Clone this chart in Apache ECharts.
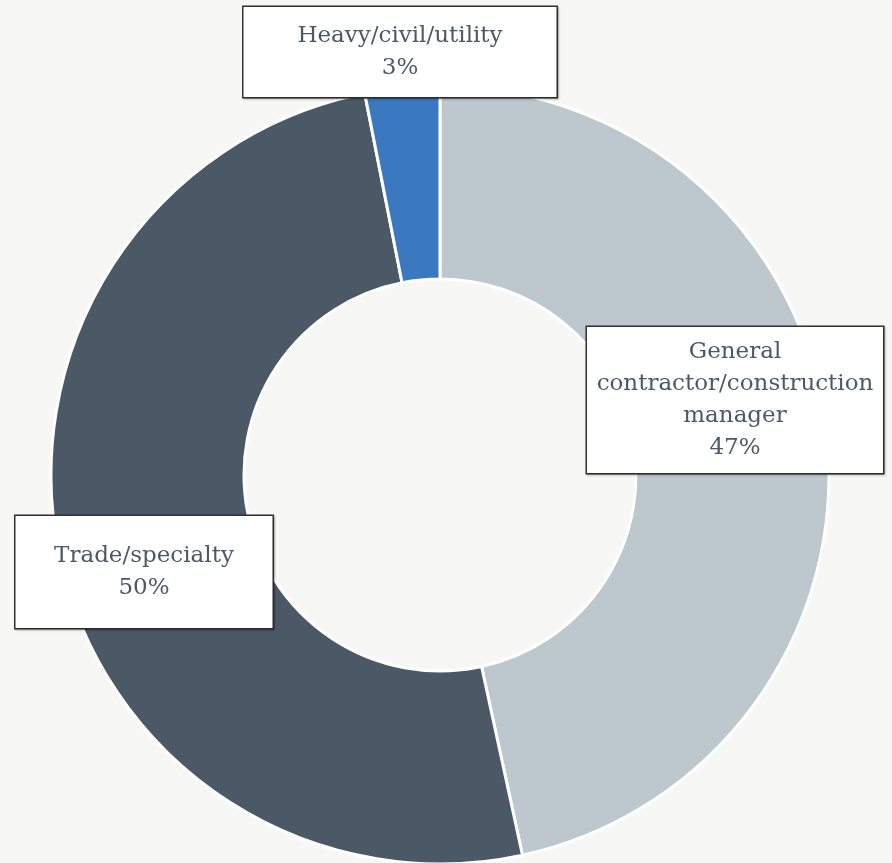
<!DOCTYPE html>
<html>
<head>
<meta charset="utf-8">
<script src="https://cdn.jsdelivr.net/npm/echarts@6/dist/echarts.min.js"></script>
<style>
html,body{margin:0;padding:0;background:#f7f7f5;}
#chart{width:892px;height:863px;}
</style>
</head>
<body>
<div id="chart"></div>
<script>
const categories = ['General contractor/construction manager', 'Trade/specialty', 'Heavy/civil/utility'];
const labelLines = ['General\ncontractor/construction\nmanager', 'Trade/specialty', 'Heavy/civil/utility'];
const values = [46.6, 50.3, 3.1];
const percentLabels = ['47%', '50%', '3%'];
const colors = ['#bdc7ce', '#4b5967', '#3a78c0'];

// label box geometry (presentation only)
const boxCenters = [[735, 400], [144, 572], [400, 52]];
const boxSizes = [[296, 146], [257, 112], [313, 90]];
const lineH = 32;

const chart = echarts.init(document.getElementById('chart'));
const data = categories.map((c, i) => {
  const nLines = labelLines[i].split('\n').length + 1;
  const padV = Math.max(0, (boxSizes[i][1] - nLines * lineH) / 2);
  return {
    name: c,
    value: values[i],
    itemStyle: { color: colors[i] },
    label: {
      width: boxSizes[i][0],
      padding: [padV, 0, padV, 0]
    }
  };
});

chart.setOption({
  backgroundColor: '#f7f7f5',
  animation: false,
  series: [{
    type: 'pie',
    center: [440, 475],
    radius: [196, 389],
    startAngle: 90,
    clockwise: true,
    silent: true,
    itemStyle: { borderColor: '#ffffff', borderWidth: 3 },
    label: {
      show: true,
      position: 'inside',
      formatter: p => labelLines[p.dataIndex] + '\n' + percentLabels[p.dataIndex],
      fontFamily: 'DejaVu Serif',
      fontSize: 23,
      lineHeight: lineH,
      color: '#4b5967',
      align: 'center',
      backgroundColor: '#ffffff',
      borderColor: '#333333',
      borderWidth: 1.5,
      shadowColor: 'rgba(0,0,0,0.25)',
      shadowBlur: 2,
      shadowOffsetX: 1,
      shadowOffsetY: 1
    },
    labelLine: { show: false },
    labelLayout: p => ({
      x: boxCenters[p.dataIndex][0],
      y: boxCenters[p.dataIndex][1],
      align: 'center',
      verticalAlign: 'middle'
    }),
    emphasis: { disabled: true },
    data: data
  }]
});
</script>
</body>
</html>
